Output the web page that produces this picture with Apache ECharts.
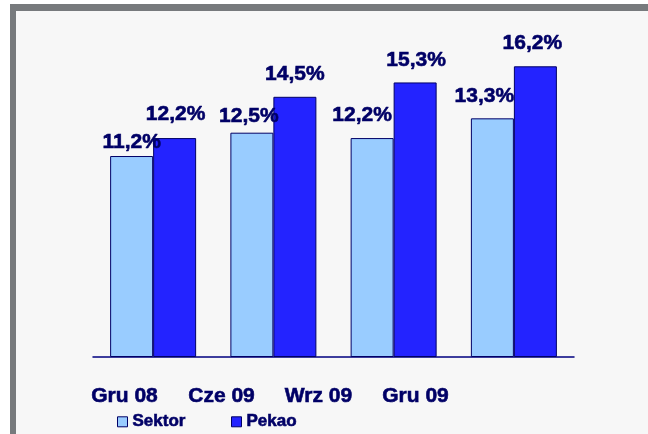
<!DOCTYPE html>
<html>
<head>
<meta charset="utf-8">
<script src="https://cdn.jsdelivr.net/npm/echarts@6/dist/echarts.min.js"></script>
<style>
  html, body { margin: 0; padding: 0; background: #ffffff; }
  #frame {
    position: absolute; left: 10px; top: 4px; width: 638px; height: 430px;
    box-sizing: border-box; background: #f7f7f7;
    border-top: 7px solid #777a7d; border-left: 6px solid #777a7d;
  }
  #chart { position: absolute; left: 0; top: 0; width: 648px; height: 434px; }
</style>
</head>
<body>
<div id="frame"></div>
<div id="chart"></div>
<script>
//---------------------------Data---------------------------
let categories = ['Gru 08', 'Cze 09', 'Wrz 09', 'Gru 09'];
let sektor = [11.2, 12.5, 12.2, 13.3];
let pekao = [12.2, 14.5, 15.3, 16.2];

//---------------------------Look---------------------------
let navy = '#000066';
let font = 'Liberation Sans, Arial, sans-serif';
//hand placed labels in the original, nudge them per bar [dx, dy]
let sektorShift = [[0, 9], [-3, 6], [-10, 0], [-8, 0]];
let pekaoShift = [[1, -1], [0, 0], [1, 0], [-3, -1]];

//bolder text, the original uses a heavy raster bold
function heavy(size) {
    return {
        color: navy, fontFamily: font, fontWeight: 'bold', fontSize: size,
        textBorderColor: navy, textBorderWidth: 0.6
    };
}

function barSeries(name, values, color, shift) {
    let items = [];
    for (let i = 0; i < values.length; i++) {
        items.push({ value: values[i], label: { offset: shift[i] } });
    }
    let label = heavy(21);
    label.show = true;
    label.position = 'top';
    label.distance = 12;
    label.formatter = function (p) { return p.value.toFixed(1).replace('.', ',') + '%'; };
    return {
        name: name,
        type: 'bar',
        xAxisIndex: 0,
        yAxisIndex: 0,
        barWidth: 43,
        barGap: '0%',
        data: items,
        itemStyle: { color: color, borderColor: navy, borderWidth: 1 },
        label: label
    };
}

function legendAt(name, left) {
    return {
        data: [name],
        left: left,
        top: 413,
        padding: 0,
        itemWidth: 10,
        itemHeight: 10,
        icon: 'rect',
        itemStyle: { borderColor: navy, borderWidth: 1 },
        textStyle: heavy(17)
    };
}

let chart = echarts.init(document.getElementById('chart'));

let xLabel = heavy(21);
xLabel.margin = 29;

let option = {
    animation: false,
    backgroundColor: 'transparent',
    grid: [
        { left: 93, right: 74, top: 34, bottom: 77 },
        //label row sits apart from the bars in the original
        { left: 76, width: 388, top: 34, bottom: 77 }
    ],
    xAxis: [
        {
            type: 'category', gridIndex: 0, data: categories,
            axisLine: { lineStyle: { color: '#000080', width: 1.5 } },
            axisTick: { show: false },
            axisLabel: { show: false }
        },
        {
            type: 'category', gridIndex: 1, data: categories,
            axisLine: { show: false },
            axisTick: { show: false },
            axisLabel: xLabel
        }
    ],
    yAxis: [
        { type: 'value', gridIndex: 0, min: 0, max: 18, show: false, splitLine: { show: false } },
        { type: 'value', gridIndex: 1, min: 0, max: 1, show: false, splitLine: { show: false } }
    ],
    legend: [legendAt('Sektor', 117), legendAt('Pekao', 231)],
    series: [
        barSeries('Sektor', sektor, '#99ccff', sektorShift),
        barSeries('Pekao', pekao, '#2323ff', pekaoShift)
    ]
};

chart.setOption(option);
</script>
</body>
</html>
